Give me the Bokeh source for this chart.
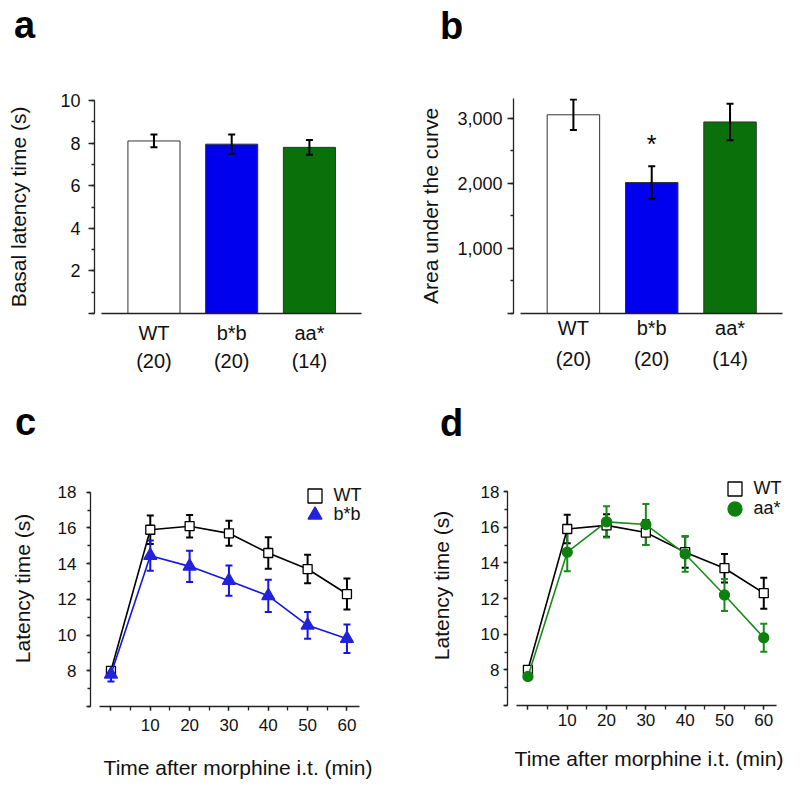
from bokeh.plotting import figure
from bokeh.layouts import column, row
from bokeh.models import (ColumnDataSource, Whisker, TeeHead, SingleIntervalTicker, FixedTicker,
                          LinearAxis, Legend, LegendItem, Range1d, NumeralTickFormatter, Div)
from bokeh.embed import file_html
from bokeh.resources import INLINE
from bokeh.core.properties import value

# ---------------- data ----------------
groups = ["WT", "b*b", "aa*"]
group_n = ["(20)", "(20)", "(14)"]
basal_mean = [8.1, 7.95, 7.8]
basal_sem = [0.3, 0.45, 0.35]
auc_mean = [3050, 2010, 2940]
auc_sem = [235, 250, 280]
auc_sig = ["", "*", ""]

time_min = [0, 10, 20, 30, 40, 50, 60]
wt_mean = [8.0, 15.9, 16.1, 15.7, 14.6, 13.7, 12.3]
wt_sem = [0.2, 0.8, 0.63, 0.7, 0.88, 0.8, 0.87]
bb_mean = [7.8, 14.45, 13.85, 13.05, 12.2, 10.55, 9.8]
bb_sem = [0.4, 0.85, 0.87, 0.85, 0.9, 0.75, 0.8]
aa_mean = [7.63, 14.6, 16.3, 16.15, 14.5, 12.2, 9.8]
aa_sem = [0.15, 1.07, 0.88, 1.15, 1.0, 0.9, 0.78]

FONT = "Liberation Sans"
AX = "#222222"
BAR_COLORS = ["white", "#0000ee", "#0a700a"]
BLUE_LINE = "#1515e0"
BLUE_MARK = "#2222dd"
GREEN_LINE = "#1a8a1a"
GREEN_MARK = "#0f7f0f"

W, H_DIV, H_FIG = 400, 50, 343


def letter_div(letter, pad_left, pad_top):
    html = ('<div style="font-family:\'Liberation Sans\',Arial,sans-serif;font-weight:bold;'
            'font-size:38px;line-height:38px;color:#000;padding-left:%dpx;padding-top:%dpx;">%s</div>'
            % (pad_left, pad_top, letter))
    return Div(text=html, width=W, height=H_DIV, margin=0)


def base_fig(xr, yr, ml, mr, mt, mb):
    p = figure(width=W, height=H_FIG, x_range=xr, y_range=yr,
               x_axis_type=None, y_axis_type=None,
               output_backend="svg", toolbar_location=None,
               min_border_left=ml, min_border_right=mr,
               min_border_top=mt, min_border_bottom=mb)
    p.outline_line_color = None
    p.background_fill_color = "white"
    p.border_fill_color = "white"
    return p


def style_axis(ax, tick_out, minor_out, label_size, standoff):
    ax.axis_line_color = AX
    ax.axis_line_width = 1.3
    ax.major_tick_line_color = AX
    ax.minor_tick_line_color = AX
    ax.major_tick_line_width = 1.3
    ax.minor_tick_line_width = 1.3
    ax.major_tick_in = 0
    ax.minor_tick_in = 0
    ax.major_tick_out = tick_out
    ax.minor_tick_out = minor_out
    ax.major_label_text_font = FONT
    ax.major_label_text_font_size = label_size
    ax.major_label_text_color = "#111111"
    ax.major_label_standoff = int(round(standoff))
    ax.axis_label_text_font = FONT
    ax.axis_label_text_font_style = "normal"
    ax.axis_label_text_font_size = "21px"
    ax.axis_label_text_color = "#111111"


def bar_panel(mean, sem, ymax, interval, ylabel, ml, mr, mt, s1, s2, ylab_standoff, tick_standoff, fmt=None):
    xs = [i + 1 for i in range(len(groups))]
    p = base_fig(Range1d(0.235, 3.67), Range1d(0, ymax), ml, mr, mt, 80)
    src = ColumnDataSource(dict(x=xs, top=mean, color=BAR_COLORS,
                                lo=[m - s for m, s in zip(mean, sem)],
                                hi=[m + s for m, s in zip(mean, sem)]))
    p.vbar(x="x", top="top", width=0.67, bottom=0, fill_color="color",
           line_color="#333333", line_width=1, source=src)
    w = Whisker(base="x", lower="lo", upper="hi", source=src, dimension="height",
                line_color="black", line_width=2,
                upper_head=TeeHead(size=7, line_color="black", line_width=2),
                lower_head=TeeHead(size=7, line_color="black", line_width=2))
    w.level = "overlay"
    p.add_layout(w)

    yax = LinearAxis(ticker=SingleIntervalTicker(interval=interval, num_minor_ticks=2),
                     axis_label=ylabel, major_label_overrides={0: ""})
    style_axis(yax, 6, 3, "18px", tick_standoff)
    yax.axis_label_standoff = ylab_standoff
    if fmt is not None:
        yax.formatter = fmt
    p.add_layout(yax, "left")

    ax1 = LinearAxis(ticker=FixedTicker(ticks=xs),
                     major_label_overrides={x: g for x, g in zip(xs, groups)},
                     bounds=(0.33, 3.67))
    style_axis(ax1, 0, 0, "20px", s1)
    ax1.major_tick_line_color = None
    ax1.minor_tick_line_color = None
    p.add_layout(ax1, "below")
    ax2 = LinearAxis(ticker=FixedTicker(ticks=xs),
                     major_label_overrides={x: n for x, n in zip(xs, group_n)})
    style_axis(ax2, 0, 0, "20px", s2)
    ax2.axis_line_color = None
    ax2.major_tick_line_color = None
    ax2.minor_tick_line_color = None
    p.add_layout(ax2, "below")
    return p, xs


def line_panel(series, xmax, ymax, ml, mr, mt, mb, tick_standoff, ylab_standoff, xtick_standoff,
               xlab_standoff, legend_x, legend_ys):
    p = base_fig(Range1d(-5.2, xmax), Range1d(6, ymax), ml, mr, mt, mb)
    xax = LinearAxis(ticker=SingleIntervalTicker(interval=10, num_minor_ticks=2),
                     bounds=(-3, 63.2), major_label_overrides={0: ""},
                     axis_label="Time after morphine i.t. (min)")
    style_axis(xax, 4, 4, "17px", xtick_standoff)
    xax.axis_label_standoff = xlab_standoff
    p.add_layout(xax, "below")
    yax = LinearAxis(ticker=SingleIntervalTicker(interval=2, num_minor_ticks=2),
                     bounds=(6, 18),
                     major_label_overrides={6: ""}, axis_label="Latency time (s)")
    style_axis(yax, 4, 3, "17px", tick_standoff)
    yax.axis_label_standoff = ylab_standoff
    p.add_layout(yax, "left")

    for (name, mean, sem, lcol, mcol, marker, msize, fill), ly in zip(series, legend_ys):
        src = ColumnDataSource(dict(x=time_min, y=mean,
                                    lo=[m - s for m, s in zip(mean, sem)],
                                    hi=[m + s for m, s in zip(mean, sem)]))
        w = Whisker(base="x", lower="lo", upper="hi", source=src, dimension="height",
                    line_color=lcol, line_width=2,
                    upper_head=TeeHead(size=7, line_color=lcol, line_width=2),
                    lower_head=TeeHead(size=7, line_color=lcol, line_width=2))
        p.add_layout(w)
        p.line("x", "y", source=src, line_color=lcol, line_width=1.6)
        sc = p.scatter("x", "y", source=src, marker=marker, size=msize,
                       fill_color=fill, line_color=mcol, line_width=1.3)
        leg = Legend(items=[LegendItem(label=name, renderers=[sc])], location=(legend_x, ly),
                     glyph_width=35, glyph_height=35, spacing=0, padding=0, margin=0,
                     label_standoff=2, label_text_font=FONT, label_text_font_size="18px",
                     label_text_color="#111111", border_line_color=None,
                     background_fill_alpha=0)
        p.add_layout(leg)
    return p


# ---- panel a ----
pa, xs_a = bar_panel(basal_mean, basal_sem, 10, 2, "Basal latency time (s)",
                     94, 39, 50, 8, 3, 27, 8)

# ---- panel b ----
pb, xs_b = bar_panel(auc_mean, auc_sem, 3300, 1000, "Area under the curve",
                     113, 18, 48, 3, 6, 12, 5, NumeralTickFormatter(format="0,0"))
sig_src = ColumnDataSource(dict(x=xs_b, y=[m + s + 340 for m, s in zip(auc_mean, auc_sem)], t=auc_sig))
pb.text(x="x", y="y", text="t", source=sig_src, text_font=value(FONT), text_font_size="25px",
        text_align="center", text_baseline="alphabetic", text_color="black")

# ---- panel c ----
pc = line_panel([
    ("WT", wt_mean, wt_sem, "black", "black", "square", 9, "white"),
    ("b*b", bb_mean, bb_sem, BLUE_LINE, BLUE_MARK, "triangle", 13, BLUE_MARK),
], 69.8, 19.22, 90, 15, 27, 80, 10, 21, 8, 22, 206.5, [193.5, 174.5])

# ---- panel d ----
pd_ = line_panel([
    ("WT", wt_mean, wt_sem, "black", "black", "square", 9, "white"),
    ("aa*", aa_mean, aa_sem, GREEN_LINE, GREEN_MARK, "circle", 10, GREEN_MARK),
], 66.8, 19.46, 107, 10, 22, 81, 4, 25, 4, 18, 209.5, [199.5, 179.5])

layout = column(
    row(column(letter_div("a", 14, 6), pa), column(letter_div("b", 40, 7), pb)),
    row(column(letter_div("c", 15, 10), pc), column(letter_div("d", 40, 11), pd_)),
)
open("out.html", "w").write(file_html(layout, INLINE))
